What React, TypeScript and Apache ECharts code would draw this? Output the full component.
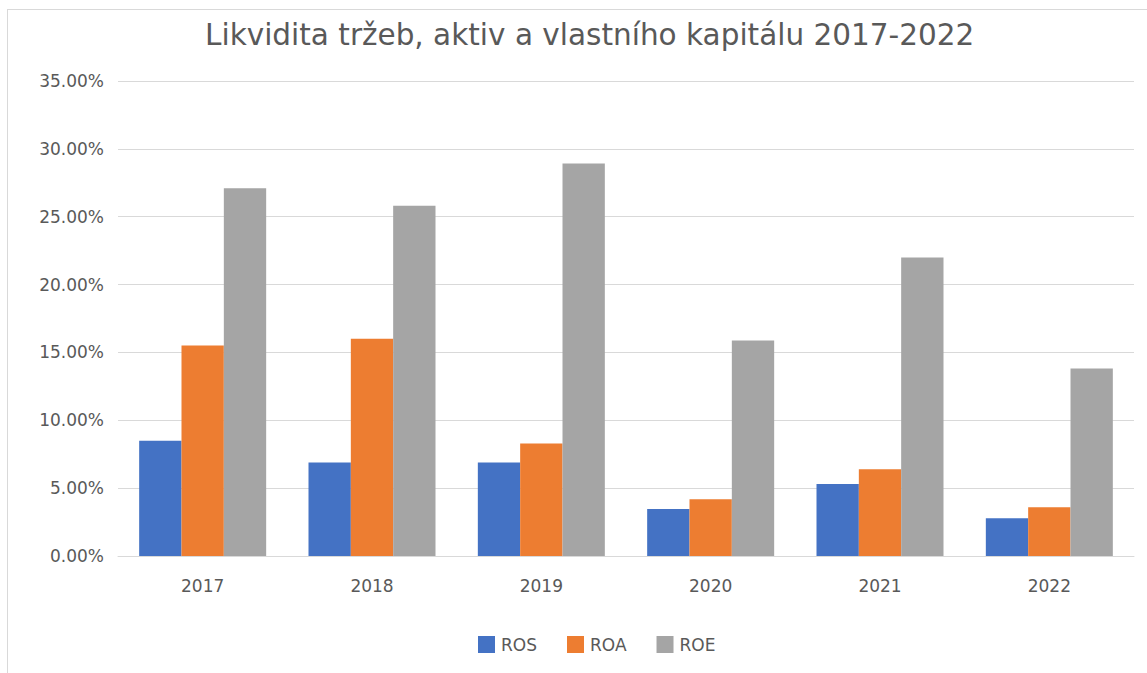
import React, { useEffect, useRef } from "react";
import * as echarts from "echarts";

const title = "Likvidita tržeb, aktiv a vlastního kapitálu 2017-2022";
const categories = ["2017", "2018", "2019", "2020", "2021", "2022"];
const seriesNames = ["ROS", "ROA", "ROE"];
const rosValues = [8.49, 6.89, 6.89, 3.47, 5.3, 2.78];
const roaValues = [15.51, 16.0, 8.29, 4.19, 6.4, 3.6];
const roeValues = [27.1, 25.8, 28.93, 15.88, 21.99, 13.81];
const colors = ["#4472C4", "#ED7D31", "#A5A5A5"];
const yMin = 0;
const yMax = 35;
const yInterval = 5;

export default function App() {
  const ref = useRef<HTMLDivElement>(null);
  useEffect(() => {
    if (!ref.current) return;
    const chart = echarts.init(ref.current, undefined, { renderer: "svg" });
    const font = "DejaVu Sans";
    const values = [rosValues, roaValues, roeValues];
    chart.setOption({
      animation: false,
      color: colors,
      title: {
        text: title,
        left: 197,
        top: 10,
        padding: 0,
        textStyle: { fontFamily: font, fontSize: 29.5, fontWeight: "normal", color: "#595959" },
      },
      grid: { left: 110, right: 13, top: 71, bottom: 117, containLabel: false },
      legend: {
        data: seriesNames,
        left: 465,
        top: 621,
        itemWidth: 17,
        itemHeight: 17,
        itemGap: 30,
        icon: "rect",
        textStyle: { fontFamily: font, fontSize: 17, color: "#595959", padding: [0, 0, 0, 1] },
      },
      xAxis: {
        type: "category",
        data: categories,
        axisLine: { show: true, lineStyle: { color: "#d9d9d9", width: 1 } },
        axisTick: { show: false },
        axisLabel: { margin: 21, fontFamily: font, fontSize: 17, color: "#595959" },
      },
      yAxis: {
        type: "value",
        min: yMin,
        max: yMax,
        interval: yInterval,
        axisLine: { show: false },
        axisTick: { show: false },
        splitLine: { lineStyle: { color: "#d9d9d9", width: 1 } },
        axisLabel: {
          margin: 14,
          fontFamily: font,
          fontSize: 17,
          color: "#595959",
          formatter: (v: number) => v.toFixed(2) + "%",
        },
      },
      series: seriesNames.map((name, i) => ({
        name,
        type: "bar",
        data: values[i],
        barGap: "0%",
        barCategoryGap: "25%",
        itemStyle: { color: colors[i] },
      })),
    });
    return () => chart.dispose();
  }, []);
  return (
    <div
      style={{
        position: "fixed",
        left: 7,
        top: 9,
        width: 1140,
        height: 664,
        borderLeft: "1px solid #d9d9d9",
        borderTop: "1px solid #d9d9d9",
        background: "#fff",
      }}
    >
      <div ref={ref} style={{ width: 1139, height: 663 }} />
    </div>
  );
}
